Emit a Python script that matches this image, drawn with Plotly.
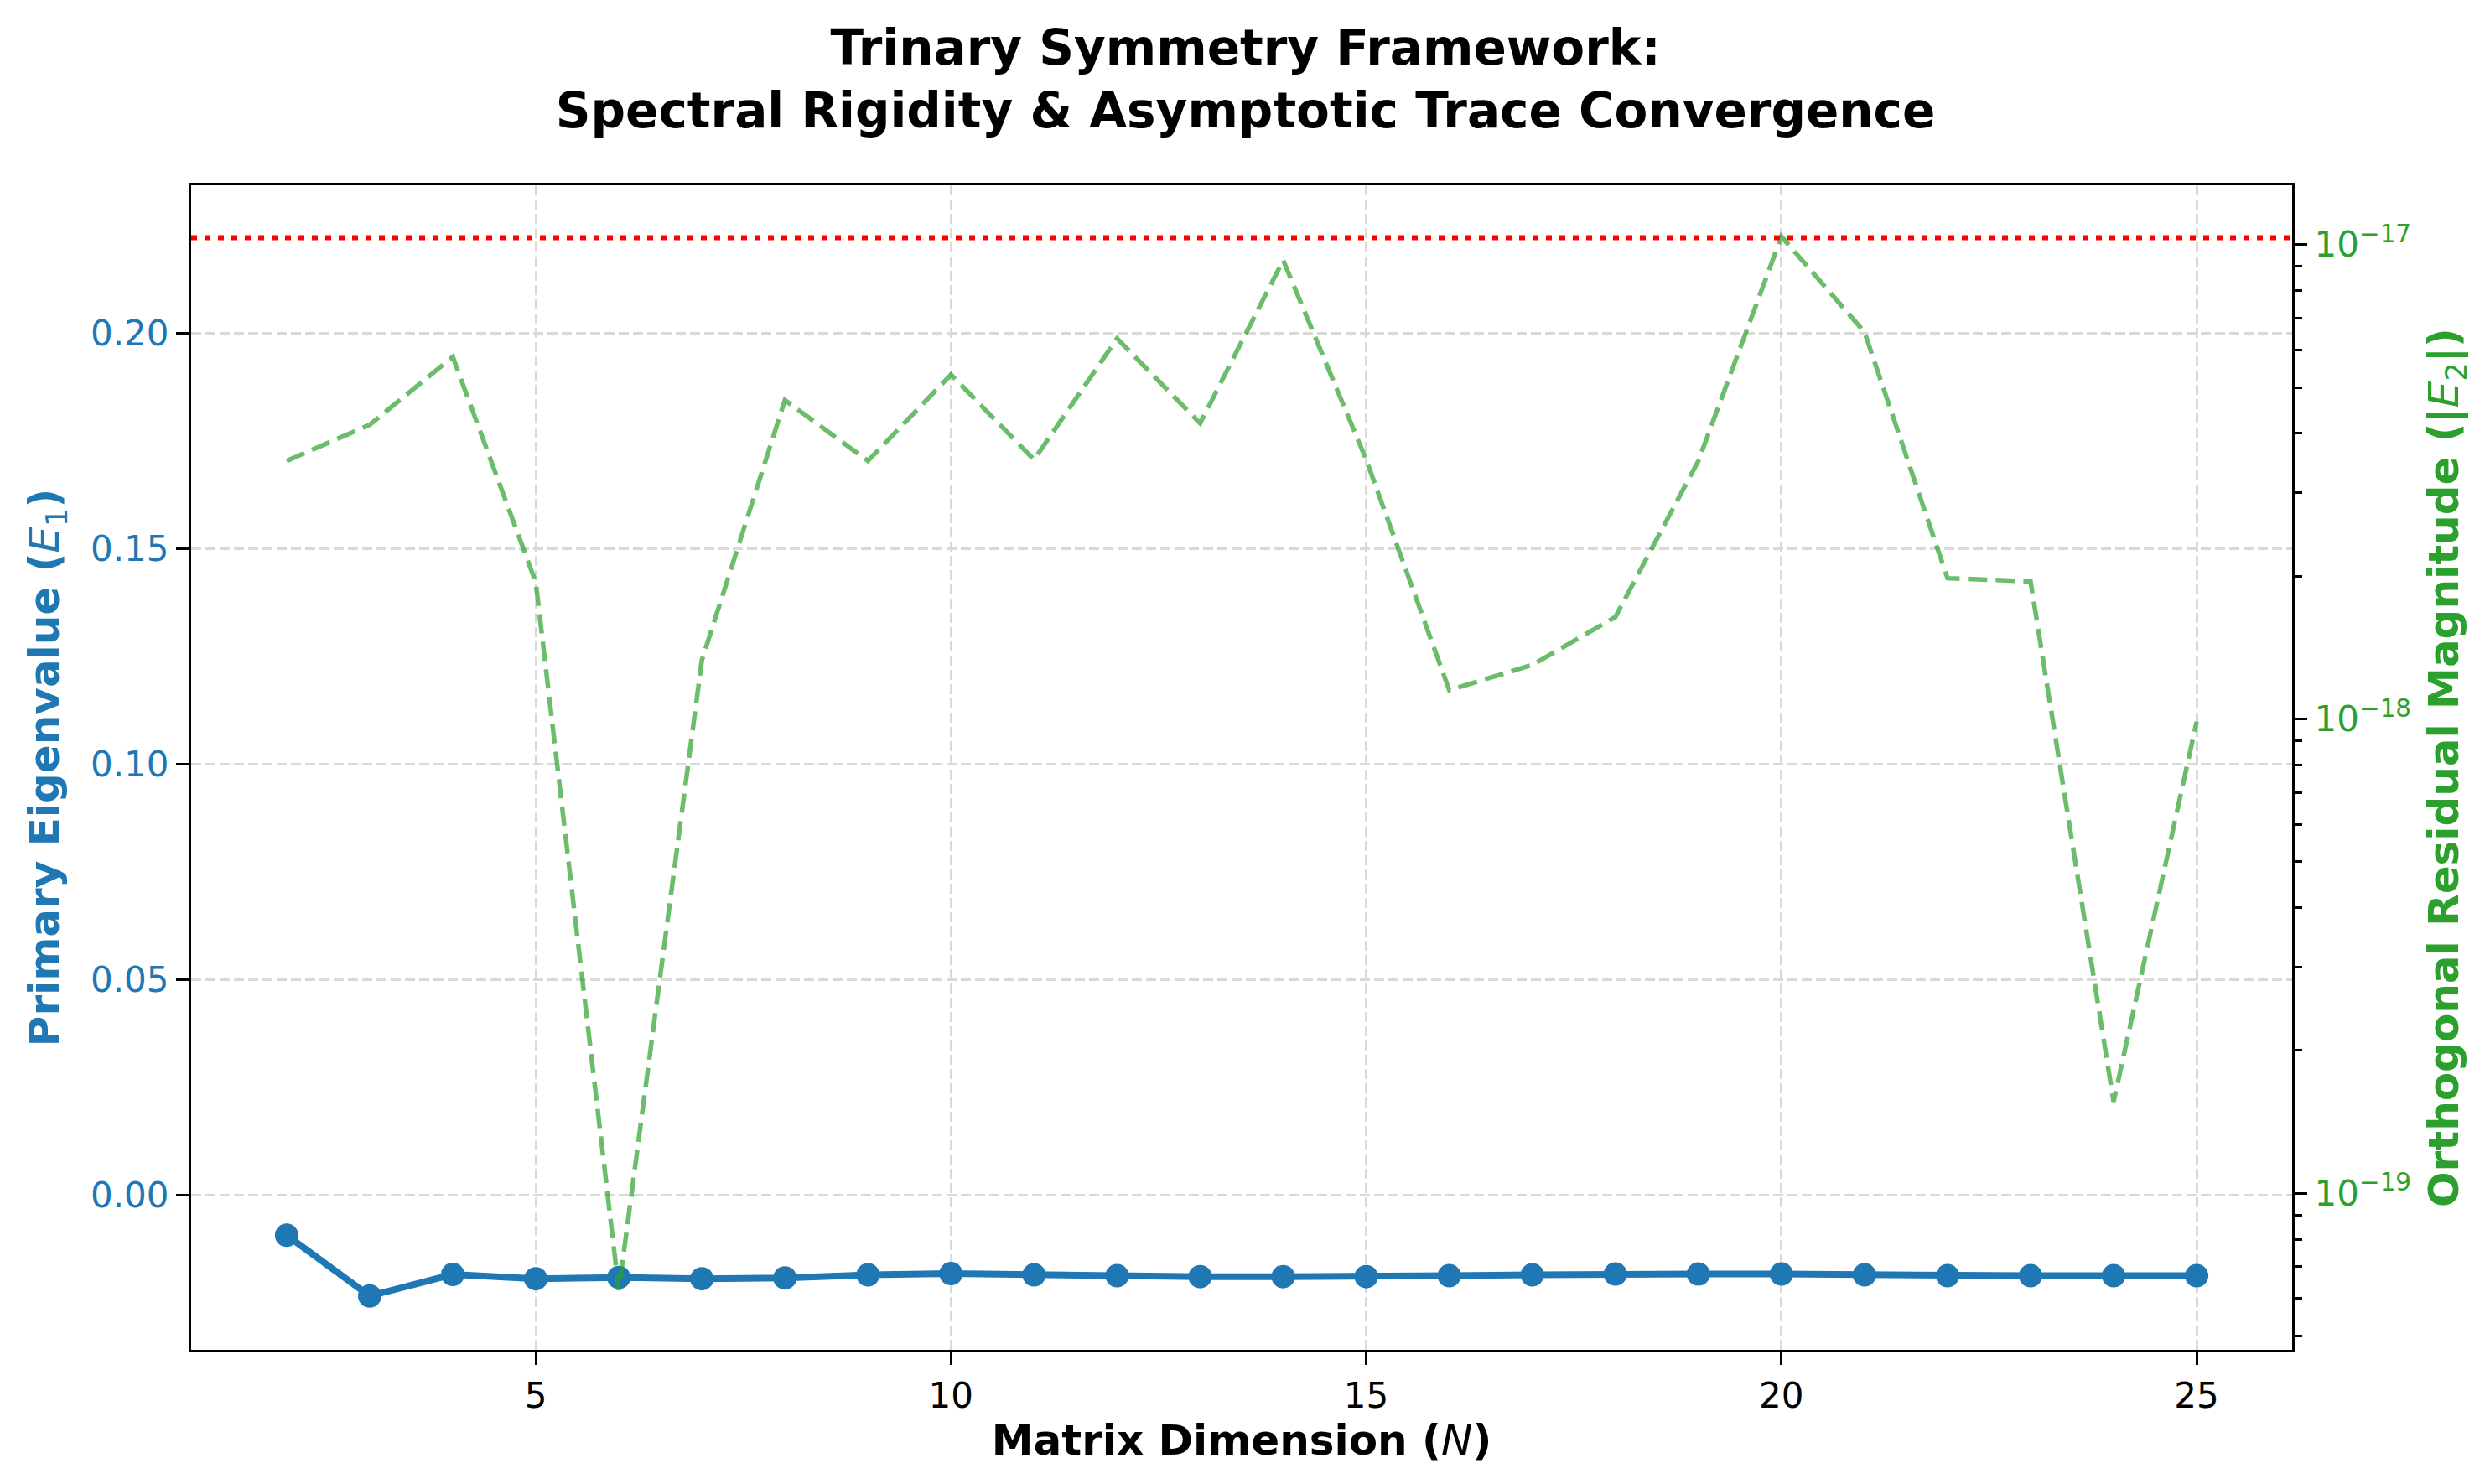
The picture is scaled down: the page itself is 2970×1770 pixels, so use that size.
import plotly.graph_objects as go

# ---------------- data ----------------
N = list(range(2, 26))
E1 = [-0.0093, -0.0234, -0.0184, -0.0194, -0.0191, -0.0194, -0.0192, -0.0185,
      -0.0182, -0.0185, -0.0187, -0.0189, -0.0189, -0.0189, -0.0187, -0.0185,
      -0.0183, -0.0183, -0.0183, -0.0185, -0.0187, -0.0187, -0.0187, -0.0187]
E2_abs = [3.50e-18, 4.17e-18, 5.80e-18, 1.94e-18, 6.25e-20, 1.33e-18, 4.70e-18, 3.50e-18,
          5.32e-18, 3.52e-18, 6.34e-18, 4.20e-18, 9.27e-18, 3.52e-18, 1.15e-18, 1.30e-18,
          1.64e-18, 3.50e-18, 1.04e-17, 6.54e-18, 1.98e-18, 1.95e-18, 1.56e-19, 9.87e-19]
THEORETICAL_LIMIT = 2.0 / 9.0
x_ticks = [5, 10, 15, 20, 25]
y1_ticks = [0.00, 0.05, 0.10, 0.15, 0.20]
y2_ticks = [1e-19, 1e-18, 1e-17]
y2_ticktext = ["10<sup>\u221219</sup>", "10<sup>\u221218</sup>", "10<sup>\u221217</sup>"]
y2_minor_ticks = [m * d for d in (1e-20, 1e-19, 1e-18) for m in range(2, 10)]

BLUE = "#1f77b4"
GREEN = "#2ca02c"
FONT = "DejaVu Sans"

fig = go.Figure()

fig.add_trace(go.Scatter(
    x=N, y=E2_abs, yaxis="y2", mode="lines",
    line=dict(color="rgba(44,160,44,0.7)", width=5.5, dash="23px,10px"),
    showlegend=False,
))
fig.add_trace(go.Scatter(
    x=N, y=E1, yaxis="y", mode="lines+markers",
    line=dict(color=BLUE, width=8),
    marker=dict(color=BLUE, size=28),
    showlegend=False,
))

fig.add_hline(y=THEORETICAL_LIMIT, line=dict(color="red", width=6, dash="7px,9px"), layer="above")

grid_color = "#d9d9d9"
grid_dash = "12px,5px"

fig.update_layout(
    width=2970, height=1770,
    paper_bgcolor="white", plot_bgcolor="white",
    margin=dict(l=220, r=244, t=213, b=168),
    font=dict(family=FONT, size=42, color="black"),
    title=dict(
        text="<b>Trinary Symmetry Framework:<br>Spectral Rigidity & Asymptotic Trace Convergence</b>",
        x=0.4975, xanchor="center", xref="container",
        y=1 - 69 / 1770, yanchor="top", yref="container",
        font=dict(family=FONT, size=58, color="black"),
    ),
    xaxis=dict(
        range=[0.85, 26.15], tickvals=x_ticks, ticks="outside", ticklen=15, tickwidth=3.3,
        tickcolor="black", showline=True, linecolor="black", linewidth=3.3, mirror=True,
        showgrid=True, gridcolor=grid_color, griddash=grid_dash, gridwidth=3, zeroline=False,
        automargin=False,
        tickfont=dict(family=FONT, size=42, color="black"),
        title=dict(text="<b>Matrix Dimension (</b><i>N</i><b>)</b>",
                   font=dict(family=FONT, size=50, color="black"), standoff=8),
    ),
    yaxis=dict(
        range=[-0.0359, 0.2344], tickvals=y1_ticks, tickformat=".2f", ticks="outside",
        ticklen=15, tickwidth=3.3, tickcolor="black", showline=True, linecolor="black",
        linewidth=3.3, showgrid=True, gridcolor=grid_color, griddash=grid_dash, gridwidth=3,
        zeroline=False, automargin=False, tickfont=dict(family=FONT, size=42, color=BLUE),
        title=dict(text="<b>Primary Eigenvalue (</b><i>E</i><sub>1</sub><b>)</b>",
                   font=dict(family=FONT, size=50, color=BLUE), standoff=22),
    ),
    yaxis2=dict(
        type="log", overlaying="y", side="right", range=[-19.33, -16.875],
        tickvals=y2_ticks, ticktext=y2_ticktext, ticks="outside", ticklen=15, tickwidth=3.3,
        tickcolor="black", showline=True, linecolor="black", linewidth=3.3,
        showgrid=False, zeroline=False, automargin=False,
        minor=dict(tickvals=y2_minor_ticks, ticks="outside", ticklen=8.5, tickwidth=2.5,
                   tickcolor="black", showgrid=False),
        tickfont=dict(family=FONT, size=42, color=GREEN),
        title=dict(text="<b>Orthogonal Residual Magnitude (|</b><i>E</i><sub>2</sub><b>|)</b>",
                   font=dict(family=FONT, size=50, color=GREEN), standoff=22),
    ),
)

fig.write_html("out.html")
